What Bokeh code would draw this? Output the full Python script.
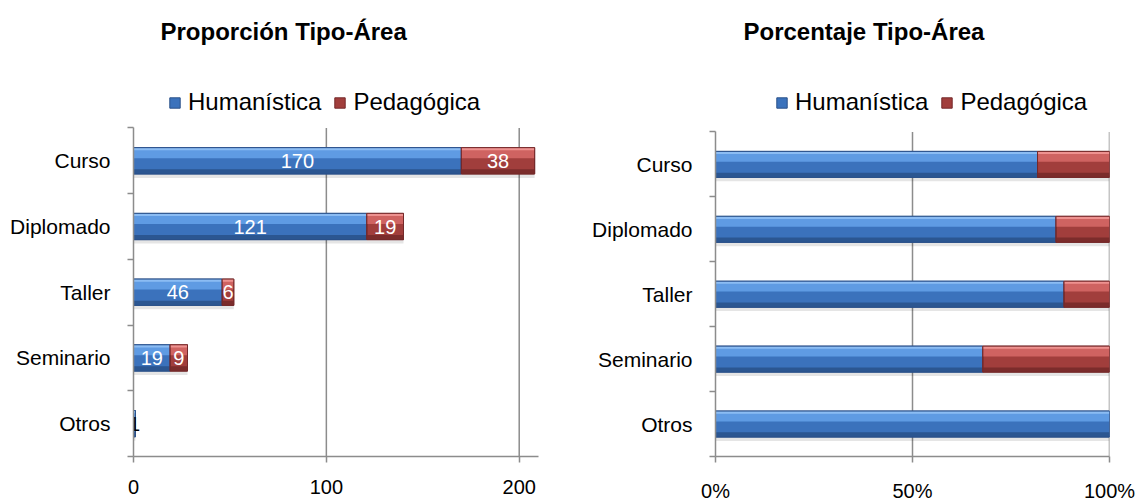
import numpy as np
from bokeh.plotting import figure
from bokeh.models import (FixedTicker, Legend, LegendItem, Range1d, Label,
                          NumeralTickFormatter)
from bokeh.layouts import row
from bokeh.core.properties import value
from bokeh.embed import file_html
from bokeh.resources import INLINE

# ---------------- data ----------------
categories = ["Curso", "Diplomado", "Taller", "Seminario", "Otros"]
humanistica = [170, 121, 46, 19, 1]
pedagogica = [38, 19, 6, 9, 0]
series_names = ["Humanística", "Pedagógica"]
left_ticks = [0, 100, 200]
right_ticks = [0, 0.5, 1.0]
titles = ["Proporción Tipo-Área", "Porcentaje Tipo-Área"]

# ---------------- style ----------------
FONT = "Liberation Sans"
GRAY = "#8c8c8c"
BLUE = dict(base="#3b72bc", hi="#5f9be3", top="#8bbcf3", low="#2b5691", edge="#2a5089")
RED = dict(base="#a13e3c", hi="#cf6361", top="#ee9290", low="#7b2c2b", edge="#74292a")
BAR_H = 0.4
n = len(categories)
ypos = np.arange(n)[::-1] + 0.5  # first category on top


def draw_shadow(p, left, right):
    keep = right > left
    p.hbar(y=ypos[keep] - 0.06, left=left[keep], right=right[keep], height=BAR_H,
           fill_color="#000000", fill_alpha=0.10, line_color=None)


def draw_segment(p, left, right, pal):
    keep = right > left
    y = ypos[keep]
    l = left[keep]
    r = right[keep]
    base = p.hbar(y=y, left=l, right=r, height=BAR_H,
                  fill_color=pal["base"], line_color=pal["edge"], line_width=1)
    p.hbar(y=y + BAR_H / 2 - 0.40 * BAR_H / 2, left=l, right=r, height=0.40 * BAR_H,
           fill_color=pal["hi"], line_color=None)
    p.hbar(y=y + BAR_H / 2 - 0.10 * BAR_H / 2, left=l, right=r, height=0.10 * BAR_H,
           fill_color=pal["top"], line_color=None)
    p.hbar(y=y - BAR_H / 2 + 0.18 * BAR_H / 2, left=l, right=r, height=0.18 * BAR_H,
           fill_color=pal["low"], line_color=None)
    p.hbar(y=y, left=l, right=r, height=BAR_H,
           fill_alpha=0, line_color=pal["edge"], line_width=1)
    return base


def make_fig(xmax, width, mb_left, mb_right, ytop, title, title_x, xticks, pct):
    p = figure(width=width, height=504, x_range=Range1d(0, xmax), title=None,
               y_range=Range1d(0, ytop), output_backend="svg", toolbar_location=None,
               min_border_left=mb_left, min_border_right=mb_right,
               min_border_top=0, min_border_bottom=46)
    p.outline_line_color = None
    p.background_fill_color = "white"
    p.border_fill_color = "white"

    # chart title (baseline 425 px above the bottom of the plotting area)
    p.add_layout(Label(x=title_x, y=425, x_units="screen", y_units="screen",
                       text=title, text_font=FONT, text_font_size="24px",
                       text_font_style="bold", text_color="#000000",
                       text_align="left", text_baseline="alphabetic"))

    xa = p.xaxis[0]
    xa.ticker = FixedTicker(ticks=xticks)
    if pct:
        xa.formatter = NumeralTickFormatter(format="0%")
    xa.axis_line_color = GRAY
    xa.axis_line_width = 1.5
    xa.major_tick_line_color = GRAY
    xa.major_tick_line_width = 1.5
    xa.major_tick_out = 6
    xa.major_tick_in = 0
    xa.minor_tick_line_color = None
    xa.major_label_text_font = FONT
    xa.major_label_text_font_size = "20px"
    xa.major_label_text_color = "#000000"
    xa.major_label_standoff = 17

    ya = p.yaxis[0]
    ya.bounds = (0, n)
    ya.ticker = FixedTicker(ticks=list(ypos), minor_ticks=list(range(n + 1)))
    ya.major_label_overrides = {float(y): c for y, c in zip(ypos, categories)}
    ya.axis_line_color = GRAY
    ya.axis_line_width = 1.5
    ya.major_tick_line_color = None
    ya.major_tick_out = 0
    ya.major_tick_in = 0
    ya.minor_tick_line_color = GRAY
    ya.minor_tick_line_width = 1.5
    ya.minor_tick_out = 6
    ya.minor_tick_in = 0
    ya.major_label_text_font = FONT
    ya.major_label_text_font_size = "21px"
    ya.major_label_text_color = "#000000"
    ya.major_label_standoff = 17

    # vertical gridlines limited to the category band
    p.xgrid.grid_line_color = None
    p.ygrid.grid_line_color = None
    gx = xticks[1:]
    p.segment(x0=gx, y0=[0] * len(gx), x1=gx, y1=[n] * len(gx),
              line_color=GRAY, line_width=1.5)
    return p


def add_legend(p, renderers, legend_x, legend_y):
    items = [LegendItem(label=nm, renderers=[r]) for nm, r in zip(series_names, renderers)]
    lg = Legend(items=items, orientation="horizontal", location=(legend_x, legend_y),
                margin=0, padding=0, spacing=12, label_standoff=7,
                glyph_width=13, glyph_height=13, label_height=13, label_text_font=FONT,
                label_text_font_size="24px", label_text_color="#000000",
                border_line_color=None, background_fill_alpha=0)
    p.add_layout(lg, "center")


h = np.array(humanistica, dtype=float)
g = np.array(pedagogica, dtype=float)
tot = h + g
zeros = np.zeros(n)

# ---------------- left panel: counts ----------------
p1 = make_fig(210, 569, 133, 31, n + 128 / 66, titles[0], 27, left_ticks, False)
draw_shadow(p1, zeros, tot)
r1 = draw_segment(p1, zeros, h, BLUE)
r2 = draw_segment(p1, h, tot, RED)

lab_x, lab_y, lab_t, lab_c = [], [], [], []
for i in range(n):
    if h[i] > 0:
        lab_x.append(h[i] / 2)
        lab_y.append(ypos[i])
        lab_t.append(str(humanistica[i]))
        lab_c.append("#ffffff" if h[i] >= 3 else "#000000")
    if g[i] > 0:
        lab_x.append(h[i] + g[i] / 2)
        lab_y.append(ypos[i])
        lab_t.append(str(pedagogica[i]))
        lab_c.append("#ffffff" if g[i] >= 3 else "#000000")
p1.text(x=lab_x, y=lab_y, text=lab_t, text_color=lab_c, text_align="center",
        text_baseline="middle", text_font=value(FONT), text_font_size="20px")
add_legend(p1, [r1, r2], 35, 340)

# ---------------- right panel: percentages ----------------
hs = h / tot
ones = np.ones(n)
p2 = make_fig(1.0, 569, 146, 29, n + 132 / 65.2, titles[1], 28, right_ticks, True)
draw_shadow(p2, zeros, ones)
r3 = draw_segment(p2, zeros, hs, BLUE)
r4 = draw_segment(p2, hs, ones, RED)
add_legend(p2, [r3, r4], 60, 340)

layout = row(p1, p2)
open("out.html", "w").write(file_html(layout, INLINE))
